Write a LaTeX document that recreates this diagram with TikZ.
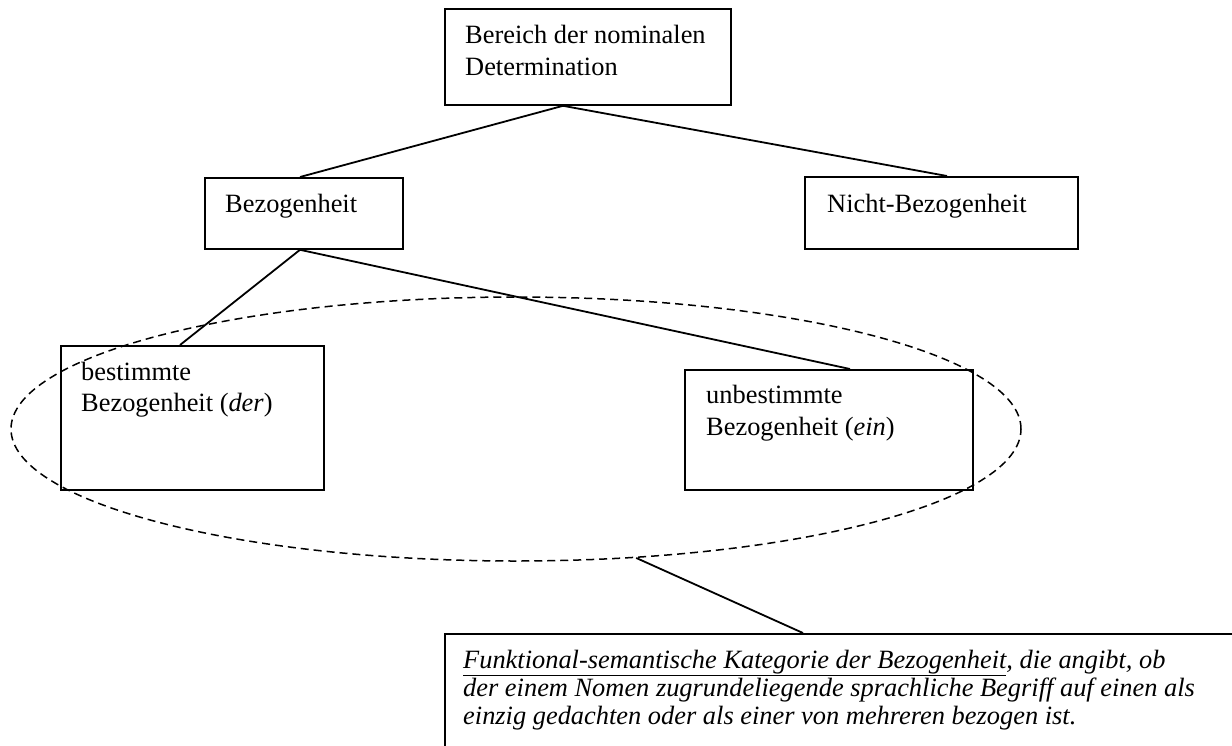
\documentclass[tikz,border=0pt]{standalone}
\usepackage{fontspec}
\setmainfont{Liberation Serif}
\usetikzlibrary{shapes.geometric}
\begin{document}
\begin{tikzpicture}[x=1pt,y=-1pt,
  box/.style={draw,line width=1.8pt,rectangle,inner sep=0pt},
  lbl/.style={anchor=base west,inner sep=0pt,font=\fontsize{26.4}{32}\selectfont},
  note/.style={anchor=base west,inner sep=0pt,font=\fontsize{26.4}{28}\selectfont\itshape},
  conn/.style={line width=1.8pt}]
\useasboundingbox (0,0) rectangle (1232,745);
% boxes
\node[box,minimum width=286pt,minimum height=96pt,anchor=north west] (top) at (444,8) {};
\node[box,minimum width=198pt,minimum height=71pt,anchor=north west] (bez) at (204,177) {};
\node[box,minimum width=273pt,minimum height=72pt,anchor=north west] (nbez) at (804,176) {};
\node[box,minimum width=263pt,minimum height=144pt,anchor=north west] (best) at (60,345) {};
\node[box,minimum width=288pt,minimum height=120pt,anchor=north west] (unbest) at (684,369) {};
\node[box,minimum width=820pt,minimum height=140pt,anchor=north west] (fkt) at (444,633) {};
% ellipse
\node[draw,ellipse,dashed,dash pattern=on 8pt off 5pt,line width=1.5pt,minimum width=1010pt,minimum height=264pt,inner sep=0pt] (ell) at (516,429) {};
% texts
\node[lbl] (t1) at (465,43) {Bereich der nominalen};
\node[lbl] (t2) at (465,75) {Determination};
\node[lbl] (t3) at (225,212) {Bezogenheit};
\node[lbl] (t4) at (827,212) {Nicht-Bezogenheit};
\node[lbl] (t5) at (81,380) {bestimmte};
\node[lbl] (t6) at (81,411) {Bezogenheit (\textit{der})};
\node[lbl] (t7) at (706,403) {unbestimmte};
\node[lbl] (t8) at (706,435) {Bezogenheit (\textit{ein})};
\node[note] (n1) at (463,668) {\underline{Funktional-semantische Kategorie der Bezogenheit}, die angibt, ob};
\node[note] (n2) at (463,696) {der einem Nomen zugrundeliegende sprachliche Begriff auf einen als};
\node[note] (n3) at (463,724) {einzig gedachten oder als einer von mehreren bezogen ist.};
% connector anchor points
\coordinate (pa) at (top.south west -| 563,0);
\coordinate (pb) at (bez.north west -| 300,0);
\coordinate (pc) at (nbez.north west -| 947,0);
\coordinate (pd) at (bez.south west -| 300,0);
\coordinate (pe) at (best.north west -| 180,0);
\coordinate (pf) at (unbest.north west -| 850,0);
\coordinate (pg) at (fkt.north west -| 803,0);
% connectors
\draw[conn] (pa) -- (pb);
\draw[conn] (pa) -- (pc);
\draw[conn] (pd) -- (pe);
\draw[conn] (pd) -- (pf);
\draw[conn] (ell.-47) -- (pg);
\end{tikzpicture}
\end{document}
